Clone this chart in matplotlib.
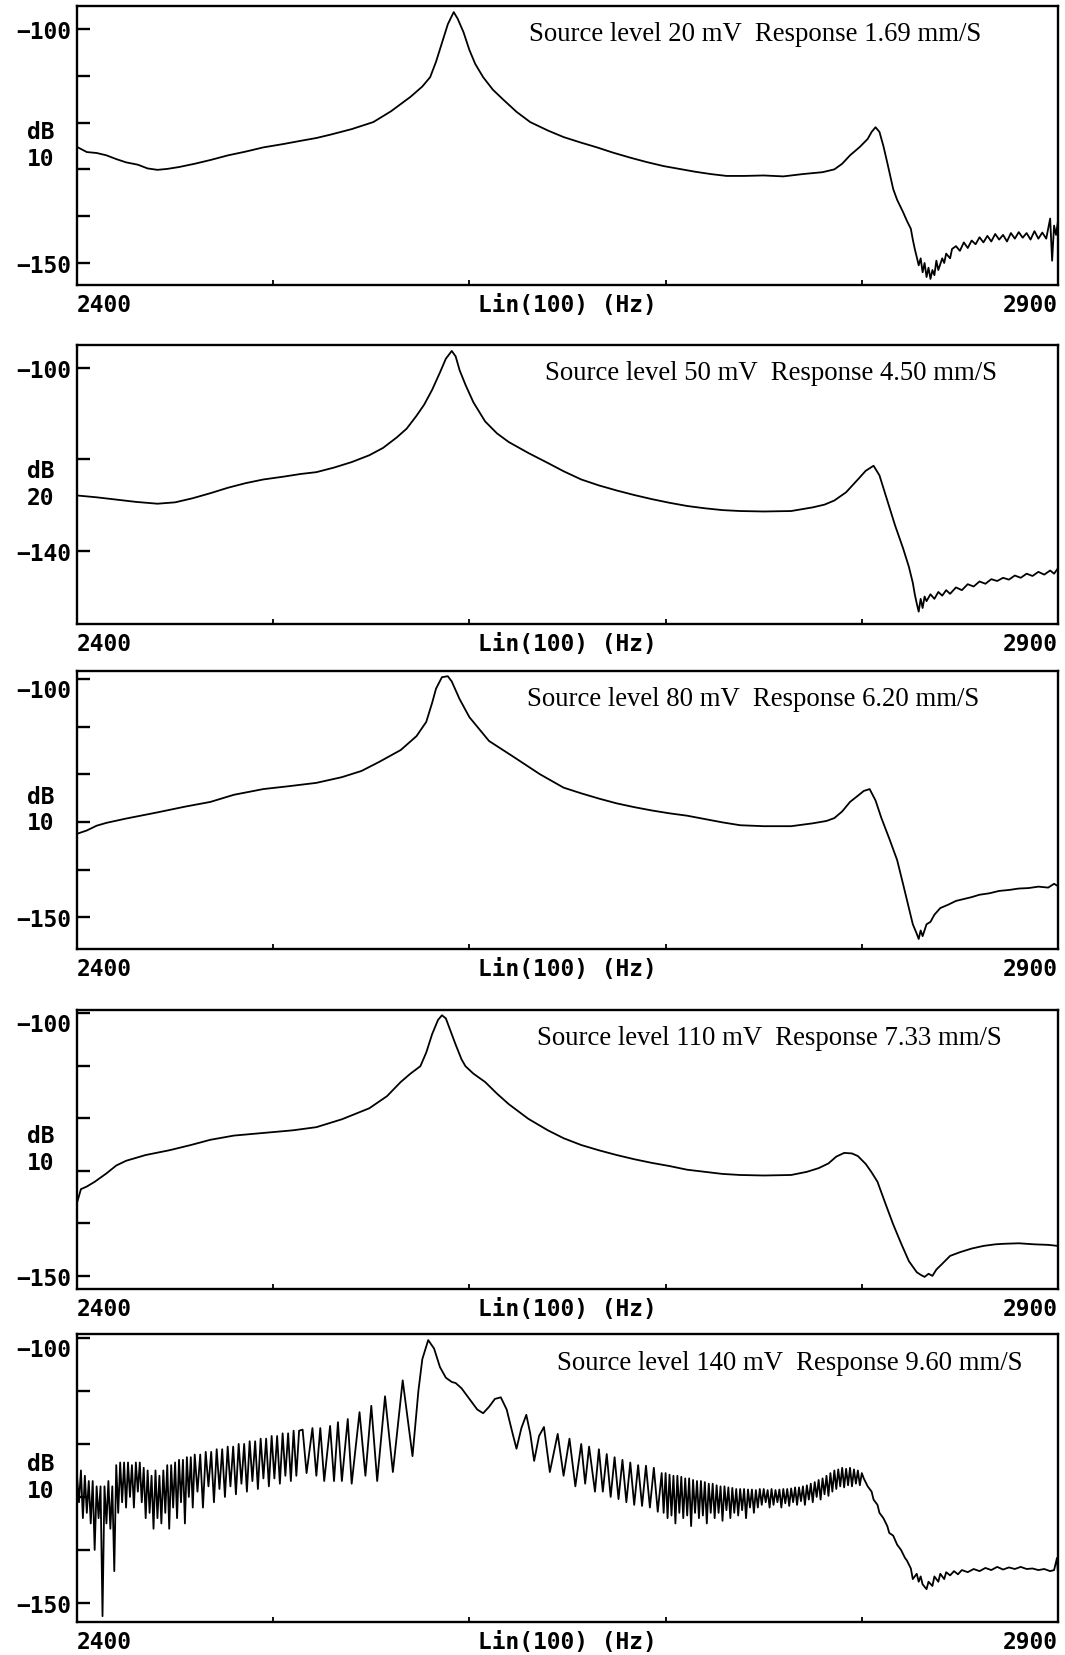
import matplotlib
matplotlib.use('Agg')

import matplotlib.pyplot as plt
import numpy as np

# ---- data (Hz, dB) ----
captions = [
    'Source level 20 mV  Response 1.69 mm/S',
    'Source level 50 mV  Response 4.50 mm/S',
    'Source level 80 mV  Response 6.20 mm/S',
    'Source level 110 mV  Response 7.33 mm/S',
    'Source level 140 mV  Response 9.60 mm/S',
]
div_labels = ['10', '20', '10', '10', '10']
ylims = [(-154.7, -95.1), (-156.0, -95.0), (-156.7, -98.3), (-152.5, -99.4), (-153.6, -99.25)]
ytick_sets = [
    [-100, -110, -120, -130, -140, -150],
    [-100, -120, -140],
    [-100, -110, -120, -130, -140, -150],
    [-100, -110, -120, -130, -140, -150],
    [-100, -110, -120, -130, -140, -150],
]
x_minor = [2500, 2600, 2700, 2800]

p1_f = [2400, 2405, 2410, 2415, 2420, 2425, 2431, 2436, 2441, 2446, 2452, 2460, 2468, 2477, 2486,
        2495, 2505, 2514, 2522, 2529, 2540, 2551, 2560, 2570, 2576, 2580, 2583, 2586, 2589, 2592,
        2594, 2597, 2600, 2603, 2607, 2612, 2617, 2624, 2631, 2640, 2648, 2657, 2665, 2673, 2682,
        2690, 2699, 2707, 2715, 2723, 2731, 2740, 2750, 2760, 2770, 2780, 2786, 2790, 2794, 2799,
        2803, 2805, 2807, 2809, 2811, 2813, 2816, 2818, 2821, 2823, 2825,
        2826, 2827, 2828, 2829, 2830, 2831, 2832, 2833, 2834, 2835, 2836, 2837, 2838, 2839, 2841,
        2842, 2843, 2845, 2846, 2848, 2850, 2852, 2854, 2856, 2858, 2860, 2862, 2864, 2866, 2868,
        2870, 2872, 2874, 2876, 2878, 2880, 2882, 2884, 2886, 2888, 2890, 2892, 2894, 2896, 2897,
        2898, 2899, 2900]
p1_db = [-125.2, -126.3, -126.5, -127.0, -127.8, -128.5, -129.0, -129.8, -130.1, -129.9, -129.5,
         -128.8, -128.0, -127.0, -126.2, -125.3, -124.6, -123.9, -123.3, -122.6, -121.4, -119.9,
         -117.6, -114.5, -112.3, -110.3, -107.0, -103.0, -99.0, -96.4,
         -97.8, -100.7, -104.5, -107.5, -110.3, -113.0, -115.0, -117.7, -119.9, -121.7, -123.1,
         -124.3, -125.3, -126.4, -127.5, -128.4, -129.3, -129.9, -130.5, -131.0, -131.4,
         -131.4, -131.3, -131.5, -131.0, -130.6, -130.0, -128.8, -127.0, -125.2,
         -123.5, -122.0, -121.0, -122.0, -125.0, -128.6, -134.2, -136.5, -139.1, -141.0, -142.7,
         -145.0, -147.0, -148.7, -150.5, -149.0, -152.0, -150.0, -153.0, -151.0, -153.4, -151.5,
         -152.6, -149.5, -151.5, -149.0, -150.0, -148.0, -149.0, -147.0, -146.4, -147.4, -145.6,
         -146.8, -145.2, -146.0, -144.5, -145.6, -144.2, -145.4, -143.8, -145.0, -144.0, -145.4,
         -143.6, -144.8, -143.4, -144.6, -143.6, -145.0, -143.2, -144.8, -143.5, -144.8, -140.5,
         -149.5, -142.0, -144.0, -141.0]

p2_f = [2400, 2410, 2420, 2430, 2441, 2450, 2459, 2468, 2477, 2486, 2495, 2505, 2514, 2522, 2531,
        2540, 2549, 2556, 2563, 2568, 2573, 2577, 2581, 2585, 2588, 2591, 2593, 2595, 2598, 2602,
        2608, 2614, 2620, 2630, 2640, 2648, 2657, 2666, 2675, 2684, 2693, 2702, 2711, 2720, 2729,
        2738, 2750, 2764, 2775, 2781, 2786, 2792, 2798, 2802, 2806, 2809, 2813, 2817, 2821, 2824,
        2826, 2827, 2828, 2829, 2830, 2831, 2832, 2833, 2835, 2837, 2839, 2841, 2843, 2845, 2848,
        2851, 2854, 2857, 2860, 2863, 2866, 2869, 2872, 2875, 2878, 2881, 2884, 2887, 2890, 2893,
        2896, 2898, 2900]
p2_db = [-127.9, -128.3, -128.8, -129.3, -129.7, -129.4, -128.5, -127.4, -126.2, -125.2, -124.4,
         -123.8, -123.2, -122.8, -121.8, -120.6, -119.1, -117.5, -115.2, -113.3, -110.5, -108.0,
         -104.8, -101.0, -98.0, -96.3, -97.5, -100.5, -103.7, -107.5, -111.7, -114.3, -116.2,
         -118.6, -120.8, -122.6, -124.4, -125.7, -126.8, -127.8, -128.7, -129.5, -130.2, -130.7,
         -131.1, -131.3, -131.4, -131.3, -130.5, -129.9, -129.0, -127.2, -124.4, -122.5, -121.4,
         -123.5, -129.0, -134.5, -139.4, -143.5, -147.0, -149.5, -151.5, -153.3, -150.5, -152.5,
         -150.0, -151.0, -149.5, -150.5, -149.0, -149.8, -148.6, -149.4, -148.0, -148.6, -147.3,
         -147.8, -146.7, -147.2, -146.2, -146.6, -145.9, -146.3, -145.4, -145.9, -145.0, -145.5,
         -144.6, -145.2, -144.3, -145.0, -143.8]

p3_f = [2400, 2405, 2410, 2415, 2425, 2441, 2455, 2468, 2480, 2495, 2508, 2522, 2535, 2545, 2554,
        2565, 2573, 2578, 2581, 2583, 2586, 2589, 2591, 2595, 2600, 2604, 2610, 2616, 2622, 2636,
        2648, 2657, 2666, 2675, 2684, 2693, 2702, 2711, 2720, 2729, 2738, 2750, 2764, 2775, 2782,
        2786, 2790, 2794, 2798, 2801, 2804, 2807, 2810, 2814, 2818, 2821, 2824, 2826, 2828, 2829,
        2830, 2831, 2833, 2835, 2837, 2840, 2844, 2848, 2852, 2856, 2860, 2865, 2870, 2875, 2880,
        2885, 2890, 2895, 2898, 2900]
p3_db = [-132.5, -131.8, -130.8, -130.2, -129.3, -128.0, -126.8, -125.8, -124.3, -123.1, -122.5,
         -121.8, -120.6, -119.3, -117.4, -114.9, -112.0, -109.0, -105.0, -102.0, -99.6, -99.4,
         -100.5, -104.2, -108.0, -110.0, -113.0, -114.6, -116.2, -120.0, -122.8, -124.0, -125.1,
         -126.1, -126.9, -127.6, -128.2, -128.7, -129.4, -130.1, -130.7, -130.9, -130.9, -130.3,
         -129.8, -129.2, -127.8, -125.8, -124.5, -123.5, -123.1, -125.5, -129.2, -133.5, -138.0,
         -143.0, -148.1, -151.5, -153.5, -154.6, -152.8, -154.0, -151.5, -151.0, -149.5, -148.1,
         -147.4, -146.6, -146.2, -145.8, -145.3, -145.0, -144.5, -144.3, -144.0, -143.9, -143.6,
         -143.8, -143.0, -143.5]

p4_f = [2400, 2402, 2405, 2409, 2415, 2420, 2425, 2435, 2447, 2458, 2468, 2480, 2495, 2510, 2522,
        2535, 2549, 2558, 2565, 2570, 2575, 2578, 2581, 2584, 2586, 2588, 2590, 2593, 2596, 2598,
        2602, 2608, 2614, 2620, 2630, 2640, 2648, 2657, 2666, 2675, 2684, 2693, 2702, 2711, 2720,
        2729, 2738, 2750, 2764, 2772, 2778, 2783, 2787, 2791, 2795, 2798, 2802, 2805, 2808, 2812,
        2816, 2820, 2824, 2828, 2830, 2832, 2834, 2836, 2838, 2841, 2845, 2850, 2856, 2862, 2868,
        2872, 2880, 2888, 2895, 2900]
p4_db = [-136.1, -133.5, -133.0, -132.1, -130.5, -129.0, -128.1, -127.0, -126.1, -125.1, -124.1,
         -123.3, -122.8, -122.3, -121.7, -120.2, -118.1, -115.8, -113.1, -111.5, -110.1, -107.5,
         -104.0, -101.3, -100.4, -101.0, -103.0, -106.0, -108.8, -110.1, -111.5, -113.1, -115.3,
         -117.3, -120.1, -122.3, -123.8, -125.1, -126.1, -127.0, -127.8, -128.5, -129.1, -129.8,
         -130.2, -130.6, -130.8, -130.9, -130.8, -130.2, -129.5, -128.6, -127.3, -126.6, -126.7,
         -127.2, -128.7, -130.3, -132.1, -136.2, -140.2, -143.8, -147.2, -149.3, -149.8, -150.2,
         -149.6, -150.0, -148.8, -147.7, -146.2, -145.5, -144.8, -144.3, -144.0, -143.9, -143.8,
         -144.0, -144.1, -144.3]

# panel 5: evenly spaced analyser bins where the trace is dense, turning points elsewhere
p5_a_start, p5_a_step = 2400, 1.0
p5_a_db = [-126, -131, -125, -134, -126, -133, -127, -135, -127, -140,
           -128, -134, -128, -152.5, -128, -135, -127, -136, -128, -144,
           -124, -133, -123.5, -131, -123.5, -132, -123.5, -130, -124, -132,
           -123.5, -129, -123.5, -131, -124.5, -134, -125, -133, -126, -136,
           -125, -134, -126, -135, -125, -133, -124, -136, -124, -132,
           -123.5, -134, -123, -131, -123, -135, -122.5, -130, -122.5, -132]
p5_b_start, p5_b_step = 2460, 1.4
p5_b_db = [-122, -129, -122, -132, -121.5, -128, -121.5, -131, -121, -128.5,
           -121, -130, -120.5, -128, -120.5, -129.5, -120, -127.5, -120, -129,
           -119.5, -127, -119.5, -128.5, -119, -126.5, -119, -128, -118.5, -126.5,
           -118.5, -127.5, -118, -126, -118, -127, -117.5, -126, -117.5]
p5_c_f = [2515, 2517, 2520, 2522, 2524, 2526, 2529, 2531, 2533, 2535, 2538, 2540, 2544, 2547,
          2550, 2553, 2557, 2561, 2566, 2571, 2574, 2576, 2579, 2582, 2585, 2588, 2591, 2593,
          2596, 2600, 2604, 2607, 2610, 2613, 2616, 2619, 2622, 2624, 2626.5, 2629, 2631, 2633,
          2635.5, 2638, 2641, 2645, 2648, 2651, 2654, 2657, 2659, 2661, 2664, 2666, 2668, 2670,
          2672, 2674, 2676, 2678, 2680, 2682, 2684, 2686, 2688, 2690, 2692, 2694, 2696]
p5_c_db = [-117.3, -125.5, -117, -126, -117, -127, -116.6, -127, -115.9, -127, -115.3, -127.5,
           -114, -126, -112.8, -127, -111, -125.3, -108, -122.3, -110, -104, -100.4, -102,
           -105.5, -107.5, -108.3, -108.5, -109.5, -111.5, -113.5, -114.2, -113, -111.5, -111.2,
           -113.5, -118, -120.9, -117, -114.5, -118, -123.2, -118.5, -116.8, -125.3, -118.1,
           -126, -119, -128, -120, -127.5, -120.5, -129, -121, -129, -121.9, -130, -122.5,
           -130.4, -123, -131, -123.5, -131.5, -124, -131.7, -124.1, -132, -124.5, -132.8]
p5_d_start, p5_d_step = 2698, 1.0
p5_d_db = [-125.5, -133, -125.5, -134, -125.8, -133.5, -126, -135, -126, -133,
           -126.2, -134, -126.5, -133.5, -126.5, -135.5, -126.8, -133, -127, -134,
           -127, -133.5, -127.2, -135, -127.5, -133, -127.5, -134, -127.8, -133,
           -128, -134.5, -128, -132.5, -128.2, -134, -128.3, -133, -128.5, -133.5,
           -128.5, -132.5, -128.5, -134, -128.6, -132, -128.6, -133, -128.7, -132,
           -128.5, -131.5, -128.5, -131, -128.7, -132, -128.5, -131.5, -128.7, -131,
           -128.6, -132, -128.5, -131.2, -128.5, -131.7, -128.4, -131, -128.2, -131.5,
           -128.2, -130.8, -128, -131.5, -127.8, -130.5, -127.5, -131, -127.2, -130,
           -126.8, -130.5, -126.5, -129.5, -126, -129.8, -125.5, -129]
p5_e_start, p5_e_step = 2786, 1.0
p5_e_db = [-125, -128.5, -124.8, -128, -124.5, -128.2, -124.7, -127.8, -124.5, -128,
           -124.8, -127.5, -125, -127.8, -125.5]
p5_f_f = [2801, 2803, 2805, 2806, 2808, 2809, 2811, 2813, 2814, 2816, 2818, 2820, 2822, 2823,
          2825, 2826, 2828, 2829, 2830, 2831, 2833, 2834, 2836, 2837, 2839, 2840, 2842, 2843,
          2845, 2847, 2849, 2851, 2854, 2857, 2860, 2863, 2866, 2869, 2872, 2875, 2878, 2881,
          2884, 2887, 2890, 2893, 2896, 2898, 2899.5, 2900]
p5_f_db = [-126.5, -128, -129, -130.5, -131.5, -133, -134, -135.5, -136.8, -137.3, -139, -140,
           -141.5, -142, -143.5, -145.5, -144.5, -146, -145, -146.5, -147.4, -146, -146.8, -145,
           -146, -144.5, -145.5, -144.2, -144.8, -144, -144.6, -143.8, -144.2, -143.6, -144,
           -143.4, -143.8, -143.2, -143.7, -143.3, -143.6, -143.2, -143.6, -143.5, -143.8,
           -143.6, -144, -143.8, -141.5, -144.5]


def bins(start, step, vals):
    return start + step * np.arange(len(vals))


p5_f_all = np.concatenate([bins(p5_a_start, p5_a_step, p5_a_db),
                           bins(p5_b_start, p5_b_step, p5_b_db),
                           p5_c_f,
                           bins(p5_d_start, p5_d_step, p5_d_db),
                           bins(p5_e_start, p5_e_step, p5_e_db),
                           p5_f_f])
p5_db_all = np.concatenate([p5_a_db, p5_b_db, p5_c_db, p5_d_db, p5_e_db, p5_f_db])

traces = [(p1_f, p1_db), (p2_f, p2_db), (p3_f, p3_db), (p4_f, p4_db), (p5_f_all, p5_db_all)]

# ---- layout (figure fractions) ----
W, H = 1065, 1656
ax_left, ax_width = 77 / W, 981 / W
panel_tops = [7, 346, 672, 1011, 1335]
panel_bottoms = [286, 625, 950, 1290, 1623]
caption_x = [0.461, 0.477, 0.459, 0.469, 0.489]

mono = {'family': 'DejaVu Sans Mono', 'weight': 'bold', 'size': 16.5}
serif = ['Liberation Serif', 'Times New Roman', 'DejaVu Serif']


def db_label(v):
    return str(v).replace('-', '\u2212')


fig = plt.figure(figsize=(W / 100, H / 100), dpi=100)

for i, (f, db) in enumerate(traces):
    top, bot = panel_tops[i], panel_bottoms[i]
    ax = fig.add_axes([ax_left, 1 - bot / H, ax_width, (bot - top) / H])
    ax.plot(f, db, color='black', lw=1.3)
    ax.set_xlim(2400, 2900)
    ax.set_ylim(*ylims[i])

    for s in ax.spines.values():
        s.set_linewidth(1.7)

    yt = ytick_sets[i]
    ax.set_yticks(yt)
    ax.set_yticklabels([db_label(v) if v in (yt[0], yt[-1]) else '' for v in yt],
                       fontdict=mono)
    ax.tick_params(axis='y', direction='in', length=9, width=1.7, pad=4)
    if i >= 2:
        ax.get_yticklabels()[0].set_va('top')

    ax.set_xticks([2400, 2650, 2900])
    ax.set_xticklabels(['2400', 'Lin(100) (Hz)', '2900'], fontdict=mono)
    xl = ax.get_xticklabels()
    xl[0].set_ha('left')
    xl[2].set_ha('right')
    ax.tick_params(axis='x', which='major', length=0, pad=6)
    ax.set_xticks(x_minor, minor=True)
    ax.tick_params(axis='x', which='minor', direction='in', length=3.5, width=1.3)

    ax.text(-0.037, 0.55, 'dB', transform=ax.transAxes, ha='center', va='center', fontdict=mono)
    ax.text(-0.037, 0.455, div_labels[i], transform=ax.transAxes, ha='center', va='center',
            fontdict=mono)
    ax.text(caption_x[i], 0.90, captions[i], transform=ax.transAxes, ha='left', va='center',
            family=serif, fontsize=19.3)

fig.savefig('out.png', dpi=100)
plt.close(fig)
